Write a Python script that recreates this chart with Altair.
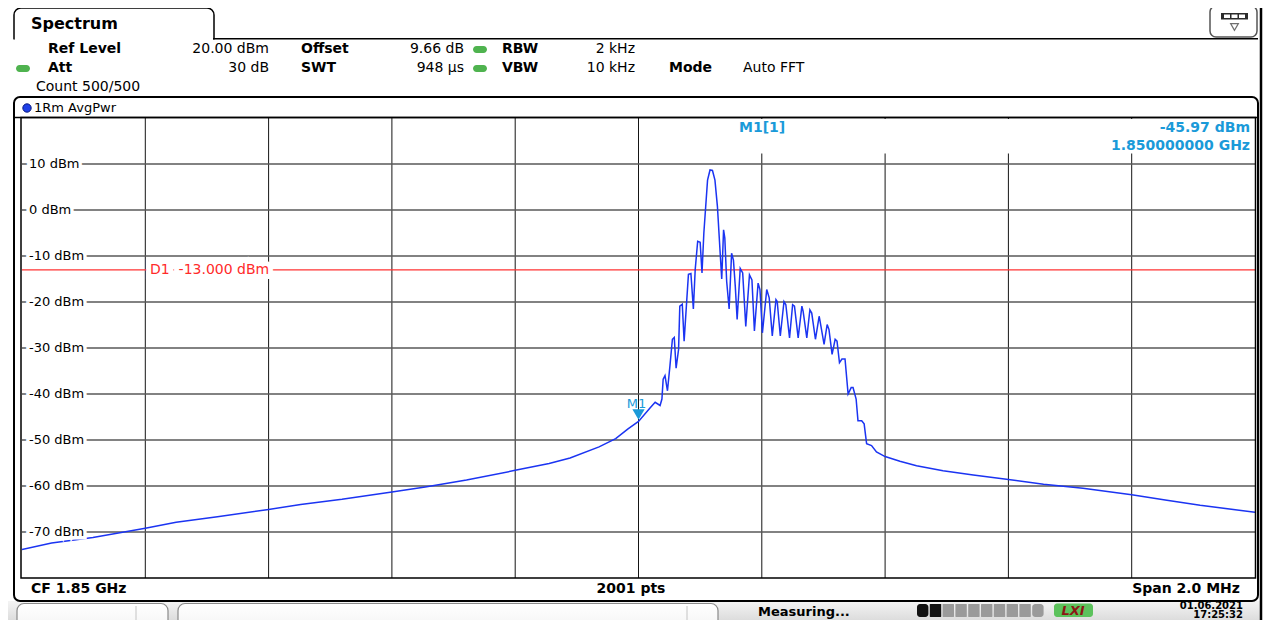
import altair as alt
import pandas as pd

span_khz = [-1000, 1000]          # CF 1.85 GHz, span 2.0 MHz
level_range = [-80, 20]           # ref level 20 dBm, 10 dB/div
grid_khz = [-800, -600, -400, -200, 0, 200, 400, 600, 800]
y_ticks = [10, 0, -10, -20, -30, -40, -50, -60, -70]
d1_level = -13.0
m1_khz = 0
m1_level = -45.97
m1_freq_ghz = 1.85

trace_khz = [-1000, -952, -885, -800, -750, -683, -600, -548, -481, -400,
             -346, -279, -200, -145, -111, -64, -37, -17, 0, 19,
             27, 35, 38, 40, 43, 47, 51, 55, 58, 61,
             65, 67, 71, 74, 78, 81, 85, 89, 92, 96,
             100, 103, 106, 112, 116, 120, 124, 128, 132, 135,
             138, 140, 143, 147, 151, 154, 157, 160, 165, 169,
             174, 180, 184, 188, 194, 197, 201, 208, 212, 217,
             223, 225, 230, 236, 239, 245, 250, 253, 259, 265,
             267, 273, 278, 281, 287, 293, 294, 301, 306, 309,
             314, 319, 322, 326, 330, 335, 340, 345, 348, 353,
             356, 362, 366, 370, 378, 386, 400, 424, 451, 494,
             543, 600, 657, 721, 800, 857, 911, 1000]
trace_dbm = [-73.8, -72.4, -71.2, -69.2, -67.9, -66.7, -65.1, -64.0, -62.9, -61.3,
             -60.2, -58.7, -56.6, -55.1, -53.9, -51.5, -49.7, -47.6, -45.97, -43.0,
             -41.8, -42.5, -41.1, -36.8, -36.0, -39.3, -33.9, -28.1, -27.7, -34.4,
             -30.3, -20.9, -20.5, -28.5, -20.2, -14.0, -13.8, -21.5, -12.9, -6.8,
             -7.0, -13.7, -5.0, 6.5, 8.7, 8.6, 6.5, 0.8, -8.3, -15.0,
             -4.3, -6.1, -15.5, -21.5, -9.4, -10.9, -16.6, -23.8, -12.7, -13.7,
             -25.3, -14.1, -15.2, -26.3, -15.9, -17.3, -26.7, -17.3, -19.1, -27.4,
             -19.5, -19.9, -27.4, -19.9, -20.6, -27.8, -20.6, -20.9, -27.8, -20.9,
             -22.0, -27.8, -21.7, -22.4, -28.1, -23.1, -23.8, -29.2, -24.9, -26.0,
             -31.4, -28.1, -28.5, -33.2, -32.4, -32.4, -40.0, -38.6, -38.6, -41.1,
             -45.8, -45.8, -46.5, -50.8, -51.2, -52.6, -53.6, -54.6, -55.6, -56.7,
             -57.6, -58.6, -59.6, -60.5, -61.9, -63.1, -64.2, -65.7]
assert len(trace_khz) == len(trace_dbm)

# ---------------- layout ----------------
FONT = "DejaVu Sans"
W, H = 1233, 460          # plot area
OX, OY = 22, 118          # screen position of plot area origin
BLUE_M = "#1a9ad9"

xs = alt.Scale(domain=span_khz, nice=False, zero=False)
ys = alt.Scale(domain=level_range, nice=False, zero=False)
one = pd.DataFrame({"k": [0]})


def X(f):
    return alt.X(f, type="quantitative", scale=xs, axis=None)


def Y(f):
    return alt.Y(f, type="quantitative", scale=ys, axis=None)


def rect(x1, y1, x2, y2, **kw):
    kw.setdefault("strokeWidth", 0)
    return alt.Chart(one).mark_rect(**kw).encode(
        x=alt.value(x1 - OX), x2=alt.value(x2 - OX),
        y=alt.value(y1 - OY), y2=alt.value(y2 - OY))


def rule(x1, y1, x2, y2, color="black", width=1.0):
    return alt.Chart(one).mark_rule(color=color, strokeWidth=width).encode(
        x=alt.value(x1 - OX), x2=alt.value(x2 - OX),
        y=alt.value(y1 - OY), y2=alt.value(y2 - OY))


def text(s, x, y, align="left", size=14, weight="normal", color="black",
         style="normal"):
    return alt.Chart(one).mark_text(
        text=s, align=align, baseline="middle", fontSize=size,
        fontWeight=weight, fontStyle=style, color=color, font=FONT
    ).encode(x=alt.value(x - OX), y=alt.value(y - OY))


def led(x1, y1):
    return rect(x1, y1, x1 + 14, y1 + 7, fill="#4fb34f", cornerRadius=3.5)


layers = []

# status bar
status_grad = alt.LinearGradient(
    gradient="linear",
    stops=[alt.GradientStop(color="#f4f4f4", offset=0),
           alt.GradientStop(color="#c4c4c4", offset=1)],
    x1=0, x2=0, y1=0, y2=1)
box_grad = alt.LinearGradient(
    gradient="linear",
    stops=[alt.GradientStop(color="#ffffff", offset=0),
           alt.GradientStop(color="#ededed", offset=1)],
    x1=0, x2=0, y1=0, y2=1)
layers += [
    rect(4, 601, 1262, 640, fill=status_grad),
    rect(17, 603.5, 168, 645, fill=box_grad, stroke="#8a8a8a", strokeWidth=1.2, cornerRadius=7),
    rule(136, 606, 136, 628, "#c4c4c4", 1),
    rect(178, 603.5, 718, 645, fill=box_grad, stroke="#8a8a8a", strokeWidth=1.2, cornerRadius=7),
    rule(687, 606, 687, 628, "#c4c4c4", 1),
    text("Measuring...", 758, 612, size=13, weight="bold"),
]
seg_w, seg_gap, seg_x0 = 12.8, 1.4, 917
for i in range(10):
    x1 = seg_x0 + i * seg_w
    layers.append(rect(x1, 604, x1 + seg_w - seg_gap, 617,
                       fill="#121212" if i < 2 else "#9a9a9a",
                       cornerRadius=3 if i in (0, 9) else 0.5))
layers += [
    rect(1054, 603.5, 1093, 617, fill="#5cc25c", cornerRadius=3),
    text("LXI", 1073, 610.5, align="center", size=13, weight="bold",
         color="#8c1515", style="italic"),
    text("01.06.2021", 1243, 605.5, align="right", size=10, weight="bold"),
    text("17:25:32", 1243, 614.5, align="right", size=10, weight="bold"),
]

# tab + icon
layers += [
    rect(14, 8, 214, 46, fill="white", stroke="black", strokeWidth=1.5, cornerRadius=7),
    rect(11, 39.6, 217, 52, fill="white"),
    rule(213, 38.8, 1258, 38.8, "black", 1.5),
    text("Spectrum", 31, 24, size=16, weight="bold"),
    rect(1210, 6, 1257, 37, fill="white", stroke="#555", strokeWidth=1.5, cornerRadius=6),
    rect(1221, 13, 1248, 19.5, fill="#2b2b2b"),
    rect(1224, 14.5, 1230, 18, fill="white"),
    rect(1231.5, 14.5, 1237.5, 18, fill="white"),
    rect(1239, 14.5, 1245, 18, fill="white"),
    alt.Chart(one).mark_point(shape="triangle-down", filled=False, stroke="#333",
                              strokeWidth=1.2, size=60).encode(
        x=alt.value(1234.5 - OX), y=alt.value(27 - OY)),
]

# header parameters
layers += [
    text("Ref Level", 48, 49, weight="bold"),
    text("20.00 dBm", 269, 49, align="right"),
    text("Offset", 301, 49, weight="bold"),
    text("9.66 dB", 464, 49, align="right"),
    led(473, 46),
    text("RBW", 502, 49, weight="bold"),
    text("2 kHz", 635, 49, align="right"),
    led(16, 65),
    text("Att", 48, 68, weight="bold"),
    text("30 dB", 269, 68, align="right"),
    text("SWT", 301, 68, weight="bold"),
    text("948 µs", 464, 68, align="right"),
    led(473, 65),
    text("VBW", 502, 68, weight="bold"),
    text("10 kHz", 635, 68, align="right"),
    text("Mode", 669, 68, weight="bold"),
    text("Auto FFT", 743, 68),
    text("Count 500/500", 36, 87),
]

# ---------------- plot content ----------------
vgrid = alt.Chart(pd.DataFrame({"f": grid_khz})).mark_rule(
    color="#151515", strokeWidth=1).encode(x=X("f"))
hgrid = alt.Chart(pd.DataFrame({"lvl": y_ticks})).mark_rule(
    color="#595959", strokeWidth=1.5).encode(y=Y("lvl"))
d1_df = pd.DataFrame({"lvl": [d1_level],
                      "label": [f"D1\u00a0\u00a0{d1_level:.3f} dBm"]})
d1_line = alt.Chart(d1_df).mark_rule(color="#ff3333", strokeWidth=1.2).encode(y=Y("lvl"))
trace = alt.Chart(pd.DataFrame({"f": trace_khz, "lvl": trace_dbm})).mark_line(
    color="#1b34f2", strokeWidth=1.5, clip=True).encode(x=X("f"), y=Y("lvl"))

ylab_df = pd.DataFrame({"lvl": y_ticks, "label": [f"{v} dBm" for v in y_ticks]})
ylab_halo = alt.Chart(ylab_df).mark_text(
    align="left", baseline="middle", fontSize=13, font=FONT,
    fill="white", stroke="white", strokeWidth=7).encode(
    x=alt.value(29 - OX), y=Y("lvl"), text="label:N")
ylab = alt.Chart(ylab_df).mark_text(
    align="left", baseline="middle", fontSize=13, font=FONT, color="black").encode(
    x=alt.value(29 - OX), y=Y("lvl"), text="label:N")
d1_halo = alt.Chart(d1_df).mark_text(
    align="left", baseline="middle", fontSize=14, font=FONT,
    fill="white", stroke="white", strokeWidth=10).encode(
    x=alt.value(150 - OX), y=Y("lvl"), text="label:N")
d1_text = alt.Chart(d1_df).mark_text(
    align="left", baseline="middle", fontSize=14, font=FONT, color="#ff2a2a").encode(
    x=alt.value(150 - OX), y=Y("lvl"), text="label:N")

m_df = pd.DataFrame({"f": [m1_khz], "lvl": [m1_level]})
m_tri = alt.Chart(m_df).mark_point(
    shape="triangle-down", filled=True, color=BLUE_M, size=150, opacity=1,
    yOffset=-7).encode(x=X("f"), y=Y("lvl"))
m_lab = alt.Chart(m_df).mark_text(
    text="M1", align="center", baseline="middle", fontSize=13, font=FONT,
    color=BLUE_M, dy=-17, dx=-2).encode(x=X("f"), y=Y("lvl"))

layers += [
    vgrid, hgrid, d1_line,
    rect(680, 119, 1254, 153.5, fill="white"),
    trace, ylab_halo, ylab, d1_halo, d1_text, m_tri, m_lab,
    text("M1[1]", 739, 128, weight="bold", color=BLUE_M),
    text(f"{m1_level:.2f} dBm", 1250, 128, align="right", weight="bold", color=BLUE_M),
    text(f"{m1_freq_ghz:.9f} GHz", 1250, 146, align="right", weight="bold", color=BLUE_M),
]

# trace window frame
layers += [
    alt.Chart(one).mark_point(shape="circle", filled=True, fill="#1f40e8",
                              stroke="#0a1a80", strokeWidth=1, size=70, opacity=1).encode(
        x=alt.value(27 - OX), y=alt.value(108 - OY)),
    text("1Rm AvgPwr", 34, 108, size=13),
    rule(14, 117.5, 1257, 117.5, "black", 1.5),
    rect(21, 117.5, 1255.5, 578, fillOpacity=0, stroke="black", strokeWidth=1.5),
    rect(14, 97, 1258, 601, fillOpacity=0, stroke="black", strokeWidth=2, cornerRadius=6),
    rule(1261, 0, 1261, 640, "black", 2.5),
    text("CF 1.85 GHz", 31, 589, weight="bold"),
    text("2001 pts", 631, 589, align="center", weight="bold"),
    text("Span 2.0 MHz", 1240, 589, align="right", weight="bold"),
]

chart = alt.layer(*layers).properties(
    width=W, height=H,
    padding={"left": 14, "top": 110, "right": 8, "bottom": 42},
    autosize=alt.AutoSizeParams(type="none"),
    background="white",
).configure_view(strokeWidth=0)

chart.save("out.html", embed_options={"renderer": "svg", "actions": False})
